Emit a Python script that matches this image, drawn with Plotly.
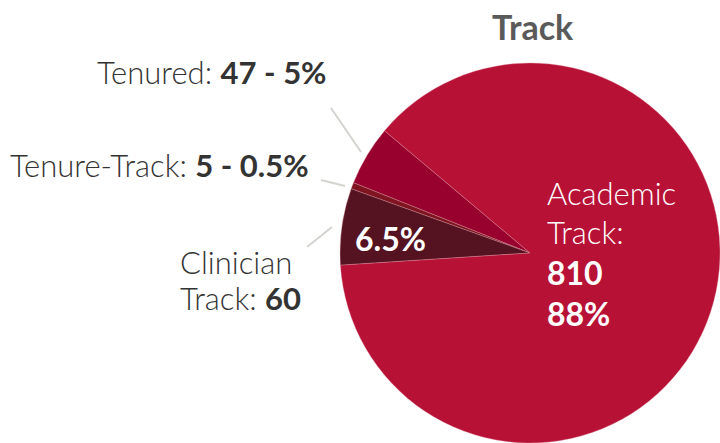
import plotly.graph_objects as go

# Faculty counts by track
categories = ["Tenured", "Tenure-Track", "Clinician Track", "Academic Track"]
counts = [47, 5, 60, 810]
pct_labels = ["5%", "0.5%", "6.5%", "88%"]
colors = ["#98002e", "#801420", "#551220", "#b81136"]

W, H = 720, 443
FONT = "Lato"
TXT = "#333333"


def px(x):
    return x / W


def py(y):
    return 1 - y / H


fig = go.Figure(
    go.Pie(
        labels=categories,
        values=counts,
        marker=dict(colors=colors, line=dict(color="rgba(225,150,165,0.6)", width=0.6)),
        sort=False,
        direction="counterclockwise",
        rotation=-68.3,
        textinfo="none",
        hoverinfo="label+value+percent",
        showlegend=False,
        domain=dict(x=[px(340), 1.0], y=[0.0, py(63)]),
    )
)

ann = []


def add(text, x, y, xanchor="left", color=TXT, size=31, weight=300, align="left"):
    ann.append(
        dict(
            text=text,
            x=px(x),
            y=py(y),
            xref="paper",
            yref="paper",
            xanchor=xanchor,
            yanchor="middle",
            align=align,
            showarrow=False,
            font=dict(family=FONT, size=size, color=color, weight=weight),
        )
    )


# Title
add("<b>Track</b>", 533, 27, xanchor="center", color="#5a5a5a", size=34, weight=700)

# Outside labels for the small slices
add(f"{categories[0]}: <b>{counts[0]} - {pct_labels[0]}</b>", 329, 72, xanchor="right")
add(f"{categories[1]}: <b>{counts[1]} - {pct_labels[1]}</b>", 311, 165, xanchor="right")
add("Clinician", 178, 262)
add(f"Track: <b>{counts[2]}</b>", 178, 298)

# Inside labels
add(f"<b>{pct_labels[2]}</b>", 391, 238, xanchor="center", color="white", size=32, weight=700)
add("Academic", 545, 193, color="white")
add("Track:", 545, 232, color="white")
add(f"<b>{counts[3]}</b>", 545, 272, color="white", size=32, weight=700)
add(f"<b>{pct_labels[3]}</b>", 545, 313, color="white", size=32, weight=700)

# Leader lines
leader = dict(color="#d3d3cf", width=2)
shapes = [
    dict(type="line", xref="paper", yref="paper", x0=px(331), y0=py(108), x1=px(361), y1=py(152), line=leader),
    dict(type="line", xref="paper", yref="paper", x0=px(321), y0=py(180), x1=px(345), y1=py(186), line=leader),
    dict(type="line", xref="paper", yref="paper", x0=px(307), y0=py(247), x1=px(332), y1=py(227), line=leader),
]

fig.update_layout(
    width=W,
    height=H,
    margin=dict(l=0, r=0, t=0, b=0),
    paper_bgcolor="white",
    plot_bgcolor="white",
    annotations=ann,
    shapes=shapes,
)

fig.write_html("out.html")
